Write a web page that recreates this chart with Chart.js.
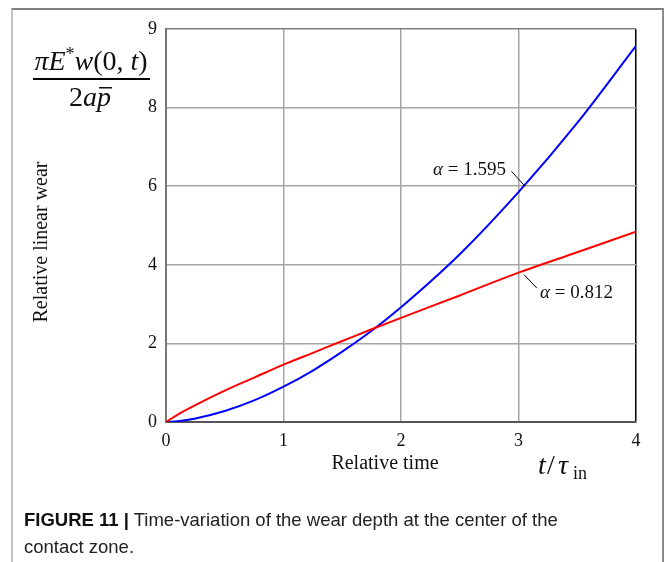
<!DOCTYPE html>
<html>
<head>
<meta charset="utf-8">
<script src="https://cdn.jsdelivr.net/npm/chart.js@4/dist/chart.umd.min.js"></script>
<style>
  body { margin: 0; background: #fff; width: 667px; height: 562px; overflow: hidden; position: relative; }
  #frame { position: absolute; left: 11px; top: 8px; width: 649px; height: 600px;
           border-left: 2px solid #c4c4c4; border-top: 2px solid #808080; border-right: 2px solid #8c8c8c; }
  #wrap { position: absolute; left: 0; top: 0; width: 667px; height: 562px; }
  #caption { position: absolute; left: 24px; top: 506px; width: 630px; white-space: nowrap;
             font-family: "Liberation Sans", Arial, sans-serif; font-size: 18.5px; line-height: 27px; color: #222; }
  #caption b { font-weight: bold; color: #111; }
</style>
</head>
<body>
<div id="frame"></div>
<div id="wrap"><canvas id="chart" width="667" height="562"></canvas></div>
<div id="caption"><b>FIGURE 11 |</b> Time-variation of the wear depth at the center of the<br>contact zone.</div>
<script>
// relative time t / tau_in
var timeValues = [0, 0.1, 0.25, 0.5, 0.75, 1, 1.25, 1.5, 1.75, 2, 2.5, 3, 3.5, 4];
// relative linear wear, alpha = 0.812
var wearLow = [0, 0.19, 0.43, 0.8, 1.13, 1.46, 1.76, 2.06, 2.36, 2.65, 3.22, 3.8, 4.32, 4.84];
// relative linear wear, alpha = 1.595
var wearHigh = [0, 0.02, 0.09, 0.28, 0.55, 0.9, 1.31, 1.79, 2.32, 2.92, 4.27, 5.85, 7.61, 9.57];
var xTicks = [0, 1, 2, 3, 4];
var yTicks = [0, 2, 4, 6, 8, 10];
var yTickLabels = ['0', '2', '4', '6', '8', '9'];
var seriesLabels = ['\u03b1 = 0.812', '\u03b1 = 1.595'];

function toPoints(ys) {
  return timeValues.map(function (t, i) { return { x: t, y: ys[i] }; });
}

var serif = '"Liberation Serif", "Times New Roman", serif';

// draw "α = 1.595" with italic alpha, anchored left or right
function alphaLabel(ctx, text, x, y, alignRight) {
  var a = text.charAt(0), rest = text.slice(1);
  ctx.font = 'italic 19px ' + serif;
  var wa = ctx.measureText(a).width;
  ctx.font = '19px ' + serif;
  var wr = ctx.measureText(rest).width;
  var left = alignRight ? x - wa - wr : x;
  ctx.textAlign = 'left';
  ctx.font = 'italic 19px ' + serif;
  ctx.fillText(a, left, y);
  ctx.font = '19px ' + serif;
  ctx.fillText(rest, left + wa, y);
}

// labels, fraction and leaders drawn on top of the plot
var extras = {
  id: 'extras',
  afterDraw: function (chart) {
    var ctx = chart.ctx;
    var xs = chart.scales.x, ys = chart.scales.y;
    ctx.save();
    ctx.fillStyle = '#111';
    ctx.textBaseline = 'middle';

    // axis titles
    ctx.font = '20px ' + serif;
    ctx.textAlign = 'center';
    ctx.fillText('Relative time', 385, 464);
    ctx.save();
    ctx.translate(42, 242);
    ctx.rotate(-Math.PI / 2);
    ctx.fillText('Relative linear wear', 0, 0);
    ctx.restore();

    // t / tau_in
    ctx.textAlign = 'left';
    ctx.textBaseline = 'alphabetic';
    ctx.font = 'italic 28px ' + serif;
    ctx.fillText('t', 538, 474);
    ctx.font = '28px ' + serif;
    ctx.fillText('/', 547, 474);
    ctx.font = 'italic 28px ' + serif;
    ctx.fillText('\u03c4', 558, 474);
    ctx.font = '18px ' + serif;
    ctx.fillText('in', 573, 479);

    // fraction pi E* w(0,t) / 2 a p-bar
    var segs = [
      ['italic 28px ', '\u03c0E', 0],
      ['18px ', '*', -10],
      ['italic 28px ', 'w', 0],
      ['28px ', '(0, ', 0],
      ['italic 28px ', 't', 0],
      ['28px ', ')', 0]
    ];
    var total = 0;
    segs.forEach(function (s) { ctx.font = s[0] + serif; total += ctx.measureText(s[1]).width; });
    var x0 = 91 - total / 2;
    segs.forEach(function (s) {
      ctx.font = s[0] + serif;
      ctx.fillText(s[1], x0, 70 + s[2]);
      x0 += ctx.measureText(s[1]).width;
    });
    ctx.fillStyle = '#000';
    ctx.fillRect(33, 78, 117, 2);
    ctx.fillStyle = '#111';
    ctx.font = '28px ' + serif;
    var w2 = ctx.measureText('2').width;
    ctx.font = 'italic 28px ' + serif;
    var wa = ctx.measureText('ap').width;
    var dx = 90 - (w2 + wa) / 2;
    ctx.font = '28px ' + serif;
    ctx.fillText('2', dx, 106);
    ctx.font = 'italic 28px ' + serif;
    ctx.fillText('ap', dx + w2, 106);
    var pw = ctx.measureText('p').width;
    var aw = ctx.measureText('a').width;
    ctx.fillRect(dx + w2 + aw + 2, 87, pw - 1, 1.5);

    // curve labels with leader lines
    ctx.strokeStyle = '#000';
    ctx.lineWidth = 1;
    ctx.beginPath();
    ctx.moveTo(xs.getPixelForValue(2.94), ys.getPixelForValue(6.38));
    ctx.lineTo(xs.getPixelForValue(3.055), ys.getPixelForValue(6.0));
    ctx.moveTo(xs.getPixelForValue(3.047), ys.getPixelForValue(3.75));
    ctx.lineTo(xs.getPixelForValue(3.155), ys.getPixelForValue(3.41));
    ctx.stroke();

    ctx.textBaseline = 'middle';
    alphaLabel(ctx, seriesLabels[1], xs.getPixelForValue(2.894), ys.getPixelForValue(6.42), true);
    alphaLabel(ctx, seriesLabels[0], xs.getPixelForValue(3.183), ys.getPixelForValue(3.29), false);
    ctx.restore();
  }
};

var ctx = document.getElementById('chart').getContext('2d');
new Chart(ctx, {
  type: 'line',
  data: {
    datasets: [
      { label: seriesLabels[0], data: toPoints(wearLow), borderColor: '#ff0000', borderWidth: 2,
        pointRadius: 0, cubicInterpolationMode: 'monotone', fill: false },
      { label: seriesLabels[1], data: toPoints(wearHigh), borderColor: '#0000ff', borderWidth: 2,
        pointRadius: 0, cubicInterpolationMode: 'monotone', fill: false }
    ]
  },
  options: {
    responsive: false,
    animation: false,
    layout: { padding: { left: 126, top: 29, right: 31, bottom: 110 } },
    plugins: { legend: { display: false }, tooltip: { enabled: false } },
    scales: {
      x: {
        type: 'linear', min: 0, max: 4,
        afterFit: function (s) { s.height = 30; },
        afterBuildTicks: function (s) { s.ticks = xTicks.map(function (v) { return { value: v }; }); },
        ticks: { font: { family: serif, size: 18 }, color: '#111', padding: 8, maxRotation: 0 },
        grid: {
          drawTicks: false, lineWidth: 1.5,
          color: function (c) { return c.tick && c.tick.value === 4 ? '#000' : '#a6a6a6'; }
        },
        border: { color: '#555', width: 2 }
      },
      y: {
        type: 'linear', min: 0, max: 10,
        afterFit: function (s) { s.width = 40; },
        afterBuildTicks: function (s) { s.ticks = yTicks.map(function (v) { return { value: v }; }); },
        ticks: {
          font: { family: serif, size: 18 }, color: '#111', padding: 9,
          callback: function (v) { var i = yTicks.indexOf(v); return i >= 0 ? yTickLabels[i] : ''; }
        },
        grid: {
          drawTicks: false, lineWidth: 1.5,
          color: function (c) { return c.tick && c.tick.value === 10 ? '#808080' : '#a6a6a6'; }
        },
        border: { color: '#777', width: 2 }
      }
    }
  },
  plugins: [extras]
});
</script>
</body>
</html>
